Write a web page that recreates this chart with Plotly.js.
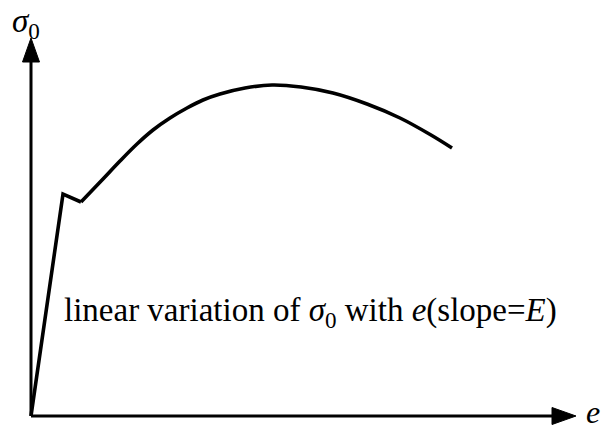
<!DOCTYPE html>
<html>
<head>
<meta charset="utf-8">
<script src="https://cdn.plot.ly/plotly-3.0.1.min.js"></script>
<style>
  html, body { margin: 0; padding: 0; background: #fff; }
  #chart { width: 601px; height: 430px; }
</style>
</head>
<body>
<div id="chart"></div>
<script>
// Elastic branch: origin up to the upper yield point, then the drop to the lower yield point
const elasticStrain = [0, 32, 50];
const elasticStress = [0, 222, 214];

// Strain-hardening branch up to the ultimate stress, then necking down to fracture
const hardeningStrain = [50, 72, 89, 106, 122, 139, 156, 172, 189, 214, 241, 270, 302, 336, 369, 400, 421];
const hardeningStress = [214, 237, 255, 272, 286, 298, 308, 316, 322, 328, 331, 329, 323, 312, 298, 281, 268];

// Axis extents (same units as the data)
const eAxisEnd = 545;
const sigmaAxisEnd = 378;
const headLength = 24;
const headHalf = 8.5;

const stroke = '#000';
const serif = '"Liberation Serif", "Times New Roman", serif';

const traces = [
  {
    x: elasticStrain, y: elasticStress,
    mode: 'lines', type: 'scatter',
    line: { color: stroke, width: 3.6, shape: 'linear' },
    hoverinfo: 'skip'
  },
  {
    x: hardeningStrain, y: hardeningStress,
    mode: 'lines', type: 'scatter',
    line: { color: stroke, width: 3.6, shape: 'spline', smoothing: 1 },
    hoverinfo: 'skip'
  }
];

const shapes = [
  // e axis
  { type: 'line', x0: 0, y0: 0, x1: eAxisEnd - headLength + 2, y1: 0,
    line: { color: stroke, width: 3 } },
  { type: 'path', fillcolor: stroke, line: { color: stroke, width: 1 },
    path: `M ${eAxisEnd - headLength} ${-headHalf} L ${eAxisEnd} 0 L ${eAxisEnd - headLength} ${headHalf} Z` },
  // sigma axis
  { type: 'line', x0: 0, y0: 0, x1: 0, y1: sigmaAxisEnd - headLength + 2,
    line: { color: stroke, width: 3 } },
  { type: 'path', fillcolor: stroke, line: { color: stroke, width: 1 },
    path: `M ${-headHalf} ${sigmaAxisEnd - headLength} L 0 ${sigmaAxisEnd} L ${headHalf} ${sigmaAxisEnd - headLength} Z` }
];

const annotations = [
  { x: -21, y: 415, xref: 'x', yref: 'y', xanchor: 'left', yanchor: 'top',
    text: '<i>σ</i><sub>0</sub>', showarrow: false,
    font: { family: serif, size: 33, color: stroke } },
  { x: 553, y: 4, xref: 'x', yref: 'y', xanchor: 'left', yanchor: 'middle',
    text: '<i>e</i>', showarrow: false,
    font: { family: serif, size: 32, color: stroke } },
  { x: 31, y: 104, xref: 'x', yref: 'y', xanchor: 'left', yanchor: 'middle',
    text: 'linear variation of <i>σ</i><sub>0</sub> with <i>e</i>(slope=<i>E</i>)', showarrow: false,
    font: { family: serif, size: 33, color: stroke } }
];

const hiddenAxis = { showgrid: false, zeroline: false, showline: false,
  showticklabels: false, ticks: '', fixedrange: true };

const layout = {
  width: 601, height: 430,
  margin: { l: 0, r: 0, t: 0, b: 0 },
  paper_bgcolor: '#fff', plot_bgcolor: '#fff',
  showlegend: false,
  xaxis: Object.assign({ range: [-31, 570] }, hiddenAxis),
  yaxis: Object.assign({ range: [-14, 416] }, hiddenAxis),
  shapes: shapes,
  annotations: annotations
};

Plotly.newPlot('chart', traces, layout, { staticPlot: true, displayModeBar: false });
</script>
</body>
</html>
